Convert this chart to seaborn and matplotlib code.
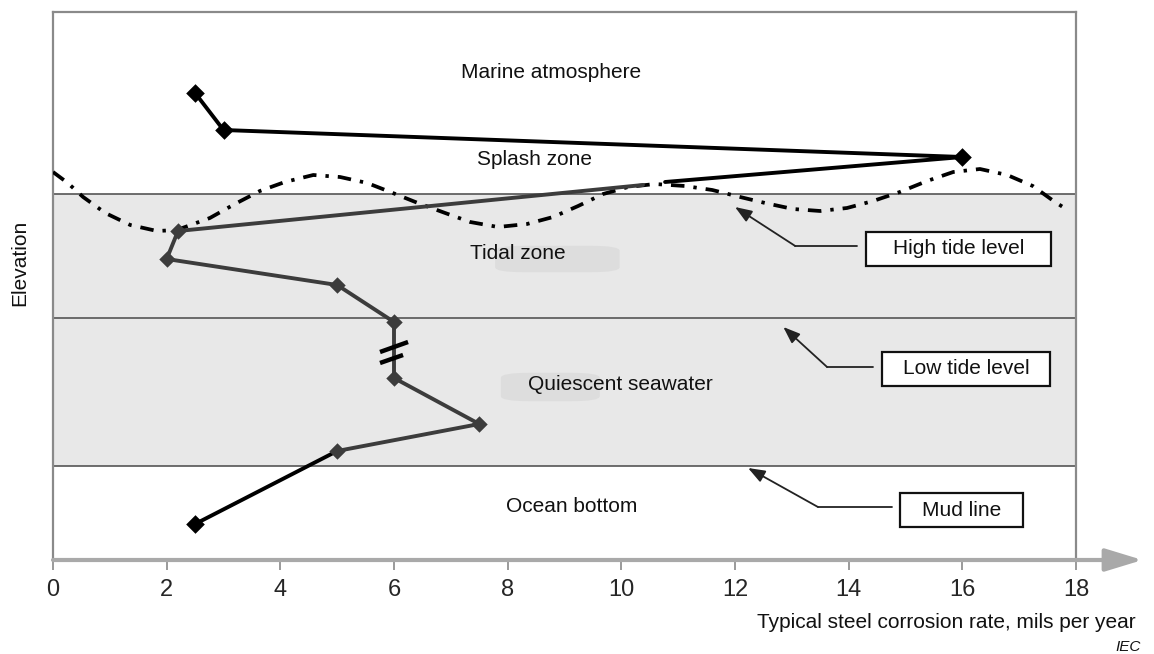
import matplotlib
matplotlib.use("Agg")
import matplotlib.pyplot as plt
import matplotlib.font_manager as fm
import seaborn as sns
import pandas as pd
from matplotlib.patches import Rectangle, FancyBboxPatch

# ---------------- data ----------------
upper_rate = [2.5, 3.0, 16.0, 10.77]
upper_elev = [46.7, 43.0, 40.3, 37.8]

tidal_rate = [10.38, 2.2, 2.0, 5.0, 6.0, 6.0, 7.5, 5.0]
tidal_elev = [37.5, 32.9, 30.1, 27.5, 23.8, 18.2, 13.6, 10.9]

bottom_rate = [5.0, 2.5]
bottom_elev = [10.9, 3.6]

wave_rate = [0.0, 0.26, 0.53, 0.92, 1.36, 1.83, 2.18, 2.76, 3.20, 3.64, 4.08,
             4.58, 5.05, 5.53, 5.98, 6.42, 6.90, 7.34, 7.83, 8.34, 8.80, 9.24,
             9.68, 10.12, 10.59, 11.12, 11.60, 12.09, 12.53, 13.02, 13.50,
             13.97, 14.43, 14.90, 15.38, 15.84, 16.31, 16.79, 17.24, 17.63, 17.77]
wave_elev = [38.8, 37.7, 36.3, 34.7, 33.5, 32.9, 33.0, 34.2, 35.6, 36.9, 37.8,
             38.5, 38.3, 37.7, 36.7, 35.7, 34.7, 33.8, 33.3, 33.6, 34.3, 35.4,
             36.6, 37.3, 37.6, 37.4, 37.0, 36.3, 35.7, 35.1, 34.9,
             35.2, 35.9, 36.8, 37.9, 38.8, 39.1, 38.5, 37.4, 35.8, 35.3]

zone_labels = ["Marine atmosphere", "Splash zone", "Tidal zone",
               "Quiescent seawater", "Ocean bottom"]
zone_label_rate = [8.76, 8.48, 8.18, 9.98, 9.13]
zone_label_elev = [48.8, 40.0, 30.6, 17.5, 5.3]

level_names = ["High tide level", "Low tide level", "Mud line"]
level_elev = [36.6, 24.2, 9.4]

x_ticks = [0, 2, 4, 6, 8, 10, 12, 14, 16, 18]
x_label = "Typical steel corrosion rate, mils per year"
y_label = "Elevation"
source_note = "IEC"

# ---------------- style ----------------
sns.set_theme(style="white")
plt.rcParams["font.family"] = ["Liberation Sans", "DejaVu Sans"]
names = {f.name for f in fm.fontManager.ttflist}
narrow = ["Liberation Sans Narrow", "Liberation Sans"] if "Liberation Sans Narrow" in names else ["Liberation Sans"]

W, H = 1154, 654
fig = plt.figure(figsize=(W / 100, H / 100), dpi=100)
ax = fig.add_axes([53 / W, (H - 560) / H, (1076 - 53) / W, (560 - 12) / H])
ax.set_xlim(0, 18)
ax.set_ylim(0, 54.8)

# zones
band_col = "#e8e8e8"
ax.axhspan(level_elev[1], level_elev[0], color=band_col, zorder=0, lw=0)
ax.axhspan(level_elev[2], level_elev[1], color=band_col, zorder=0, lw=0)
for e in level_elev:
    ax.axhline(e, color="#555555", lw=1.2, zorder=1)

# subtle blobs behind two labels
ax.add_patch(FancyBboxPatch((7.8, 28.8), 2.15, 2.6, boxstyle="round,pad=0.02,rounding_size=0.5",
                            fc="#dddddd", ec="none", zorder=1))
ax.add_patch(FancyBboxPatch((7.9, 15.9), 1.7, 2.8, boxstyle="round,pad=0.02,rounding_size=0.5",
                            fc="#dddddd", ec="none", zorder=1))

# tide wave (dash-dot)
sns.lineplot(x=wave_rate, y=wave_elev, sort=False, estimator=None, color="black", lw=2.7,
             linestyle=(0, (3.6, 2.4, 0.9, 2.4)), ax=ax, zorder=3)

# corrosion profile
sns.lineplot(x=tidal_rate, y=tidal_elev, sort=False, estimator=None, color="#3c3c3c", lw=2.8,
             ax=ax, zorder=4)
sns.scatterplot(x=tidal_rate[1:], y=tidal_elev[1:], marker="D", s=70,
                color="#3c3c3c", linewidth=0, ax=ax, zorder=6)
sns.lineplot(x=upper_rate, y=upper_elev, sort=False, estimator=None, color="black", lw=2.8,
             ax=ax, zorder=5)
sns.scatterplot(x=upper_rate[:3], y=upper_elev[:3], marker="D", s=90,
                color="black", linewidth=0, ax=ax, zorder=6)
sns.lineplot(x=bottom_rate, y=bottom_elev, sort=False, estimator=None, color="black", lw=2.8,
             ax=ax, zorder=5)
sns.scatterplot(x=[bottom_rate[-1]], y=[bottom_elev[-1]], marker="D", s=90,
                color="black", linewidth=0, ax=ax, zorder=6)

# axis break mark
ax.plot([5.754, 6.247], [20.8, 21.8], color="black", lw=3.2, zorder=7, solid_capstyle="butt")
ax.plot([5.754, 6.159], [19.7, 20.5], color="black", lw=3.2, zorder=7, solid_capstyle="butt")

# zone labels
for t, xr, ye in zip(zone_labels, zone_label_rate, zone_label_elev):
    ax.text(xr, ye, t, ha="center", va="center", fontsize=15, color="#111111", zorder=7)

# callout boxes with leader arrows
boxes = [(14.31, 29.4, 3.25, 3.4), (14.59, 17.4, 2.95, 3.4), (14.90, 3.3, 2.17, 3.4)]
leaders = [((14.15, 31.4), (13.06, 31.4), (12.0, 35.3)),
           ((14.43, 19.3), (13.62, 19.3), (12.85, 23.3)),
           ((14.76, 5.3), (13.46, 5.3), (12.23, 9.2))]
for name, (bx, by, bw, bh), (p0, p1, p2) in zip(level_names, boxes, leaders):
    ax.add_patch(Rectangle((bx, by), bw, bh, fc="white", ec="#111111", lw=1.6, zorder=7))
    ax.text(bx + bw / 2, by + bh / 2, name, ha="center", va="center", fontsize=15,
            color="#111111", zorder=8)
    ax.plot([p0[0], p1[0]], [p0[1], p1[1]], color="#222222", lw=1.3, zorder=7)
    ax.annotate("", xy=p2, xytext=p1,
                arrowprops=dict(arrowstyle="-|>,head_length=0.85,head_width=0.32",
                                color="#222222", lw=1.3, shrinkA=0, shrinkB=0),
                zorder=7)

# axes frame
for side in ["left", "top", "right"]:
    ax.spines[side].set_visible(True)
    ax.spines[side].set_color("#8a8a8a")
    ax.spines[side].set_linewidth(1.6)
ax.spines["bottom"].set_visible(False)
ax.annotate("", xy=(19.17, 0), xytext=(0, 0), xycoords="data",
            arrowprops=dict(arrowstyle="-|>,head_length=1.9,head_width=0.58",
                            color="#a9a9a9", lw=3.0, shrinkA=0, shrinkB=0),
            annotation_clip=False, zorder=10)

ax.set_xticks(x_ticks)
ax.set_xticklabels([str(v) for v in x_ticks], fontsize=17, family=narrow)
ax.tick_params(axis="x", bottom=True, length=7, width=1.4, color="#9a9a9a",
               direction="out", pad=7)
ax.set_yticks([])
ax.set_xlabel("")
ax.set_ylabel("")

fig.text(20 / W, 1 - 263 / H, y_label, rotation=90, ha="center", va="center",
         fontsize=15, color="#111111")
fig.text(1136 / W, 1 - 622 / H, x_label, ha="right", va="center",
         fontsize=15, family=narrow, color="#111111")
fig.text(1141 / W, 1 - 647 / H, source_note, ha="right", va="center",
         fontsize=11, style="italic", family=narrow, color="#111111")

fig.savefig("out.png", dpi=100, facecolor="white")
